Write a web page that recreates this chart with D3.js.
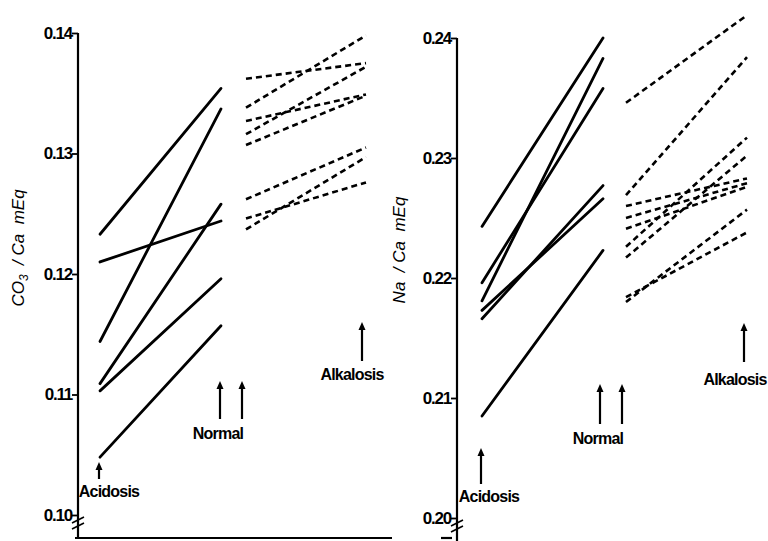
<!DOCTYPE html>
<html><head><meta charset="utf-8">
<script src="https://cdn.jsdelivr.net/npm/d3@7"></script>
<style>
body{margin:0;background:#fff;}
svg{display:block;}
text{fill:#000;}
</style></head>
<body>
<svg id="c" width="768" height="541"></svg>
<script>
// ---- Data ----
// Left panel: CO3 / Ca mEq
const leftTicks = [0.10, 0.11, 0.12, 0.13, 0.14];
const leftAcidosis = [0.1233, 0.1210, 0.1144, 0.1109, 0.1103, 0.1048];
const leftNormalFromAcid = [0.1354, 0.1244, 0.1337, 0.1258, 0.1196, 0.1157];
const leftNormalToAlk = [0.1362, 0.1338, 0.1327, 0.1316, 0.1307, 0.1262, 0.1246, 0.1237];
const leftAlkalosis = [0.1375, 0.1398, 0.1349, 0.1372, 0.1348, 0.1305, 0.1276, 0.1297];
// Right panel: Na / Ca mEq
const rightTicks = [0.20, 0.21, 0.22, 0.23, 0.24];
const rightAcidosis = [0.2243, 0.2196, 0.2181, 0.2173, 0.2166, 0.2085];
const rightNormalFromAcid = [0.2400, 0.2358, 0.2383, 0.2266, 0.2277, 0.2223];
const rightNormalToAlk = [0.2346, 0.2269, 0.2260, 0.2250, 0.2241, 0.2226, 0.2217, 0.2184, 0.2180];
const rightAlkalosis = [0.2419, 0.2384, 0.2283, 0.2279, 0.2276, 0.2317, 0.2302, 0.2238, 0.2257];
const stateLabels = ["Acidosis", "Normal", "Alkalosis"];
const yLabels = [["CO", "3", " /Ca mEq"], ["Na", "", " /Ca mEq"]];

const svg = d3.select("#c");
const fontTick = "'Liberation Sans', Arial, sans-serif";

const panels = [
  {ticks: leftTicks, dom: [0.10, 0.14], rng: [515, 33], axisX: 78, axisBottom: 537,
   xs: {acid: 100, norm1: 221, norm2: 246, alk: 366},
   a: leftAcidosis, n1: leftNormalFromAcid, n2: leftNormalToAlk, k: leftAlkalosis,
   label: yLabels[0], labelX: 24, labelY: 248, breakY: 523,
   arrows: [{x: 99, y1: 462, y2: 479}, {x: 220, y1: 381, y2: 419}, {x: 242, y1: 381, y2: 419}, {x: 362, y1: 322, y2: 361}],
   texts: [{t: stateLabels[0], x: 109, y: 497}, {t: stateLabels[1], x: 218, y: 439}, {t: stateLabels[2], x: 352, y: 380}],
   baseline: [75, 392]},
  {ticks: rightTicks, dom: [0.20, 0.24], rng: [518, 38], axisX: 457, axisBottom: 541,
   xs: {acid: 482, norm1: 603, norm2: 626, alk: 747},
   a: rightAcidosis, n1: rightNormalFromAcid, n2: rightNormalToAlk, k: rightAlkalosis,
   label: yLabels[1], labelX: 405, labelY: 250, breakY: 526,
   arrows: [{x: 481, y1: 448, y2: 484}, {x: 600, y1: 384, y2: 424}, {x: 622, y1: 384, y2: 424}, {x: 744, y1: 323, y2: 362}],
   texts: [{t: stateLabels[0], x: 489, y: 502}, {t: stateLabels[1], x: 598, y: 444}, {t: stateLabels[2], x: 735, y: 385}],
   baseline: [441, 452]}
];

panels.forEach(p => {
  const y = d3.scaleLinear().domain(p.dom).range(p.rng);
  const g = svg.append("g");

  // axis
  const ax = g.append("g").attr("transform", `translate(${p.axisX},0)`)
    .call(d3.axisLeft(y).tickValues(p.ticks).tickSize(6).tickSizeOuter(0).tickFormat(d3.format(".2f")));
  ax.select(".domain").remove();
  ax.selectAll(".tick line").attr("stroke", "#000").attr("stroke-width", 1.8);
  ax.selectAll(".tick text").attr("x", -6).attr("font-family", fontTick).attr("font-size", 17)
    .attr("letter-spacing", -1.2).attr("font-weight", "bold");
  // axis line with break
  g.append("line").attr("x1", p.axisX).attr("x2", p.axisX).attr("y1", y(p.dom[1])).attr("y2", p.axisBottom)
    .attr("stroke", "#000").attr("stroke-width", 2.2);
  [-3, 3].forEach(o => {
    g.append("line").attr("x1", p.axisX - 6).attr("x2", p.axisX + 6)
      .attr("y1", p.breakY + o + 3).attr("y2", p.breakY + o - 3)
      .attr("stroke", "#000").attr("stroke-width", 1.6);
  });
  g.append("line").attr("x1", p.baseline[0]).attr("x2", p.baseline[1]).attr("y1", 538).attr("y2", 538)
    .attr("stroke", "#000").attr("stroke-width", 2.2);

  // solid lines acidosis -> normal
  g.selectAll(".s").data(p.a).join("line")
    .attr("x1", p.xs.acid).attr("x2", p.xs.norm1)
    .attr("y1", d => y(d)).attr("y2", (d, i) => y(p.n1[i]))
    .attr("stroke", "#000").attr("stroke-width", 2.8).attr("stroke-linecap", "round");
  // dashed lines normal -> alkalosis
  g.selectAll(".d").data(p.n2).join("line")
    .attr("x1", p.xs.norm2).attr("x2", p.xs.alk)
    .attr("y1", d => y(d)).attr("y2", (d, i) => y(p.k[i]))
    .attr("stroke", "#000").attr("stroke-width", 2.6).attr("stroke-dasharray", "6,4");

  // arrows
  p.arrows.forEach(a => {
    g.append("line").attr("x1", a.x).attr("x2", a.x).attr("y1", a.y2).attr("y2", a.y1 + 6)
      .attr("stroke", "#000").attr("stroke-width", 2.2);
    g.append("path").attr("d", `M${a.x - 3.5},${a.y1 + 8} L${a.x},${a.y1} L${a.x + 3.5},${a.y1 + 8} Z`)
      .attr("fill", "#000");
  });
  p.texts.forEach(t => {
    g.append("text").attr("x", t.x).attr("y", t.y).attr("text-anchor", "middle")
      .attr("font-family", fontTick).attr("font-weight", "bold").attr("font-size", 16)
      .attr("letter-spacing", -0.8).text(t.t);
  });

  // y label
  const yl = g.append("text").attr("transform", `translate(${p.labelX},${p.labelY}) rotate(-90)`)
    .attr("text-anchor", "middle").attr("font-family", fontTick).attr("font-style", "italic")
    .attr("font-size", 17);
  yl.append("tspan").text(p.label[0]);
  if (p.label[1]) yl.append("tspan").attr("font-size", 12).attr("dy", 4).text(p.label[1]);
  yl.append("tspan").attr("dy", p.label[1] ? -4 : 0).text("\u00a0\u00a0/\u00a0Ca\u00a0\u00a0mEq");
});
</script>
</body></html>
